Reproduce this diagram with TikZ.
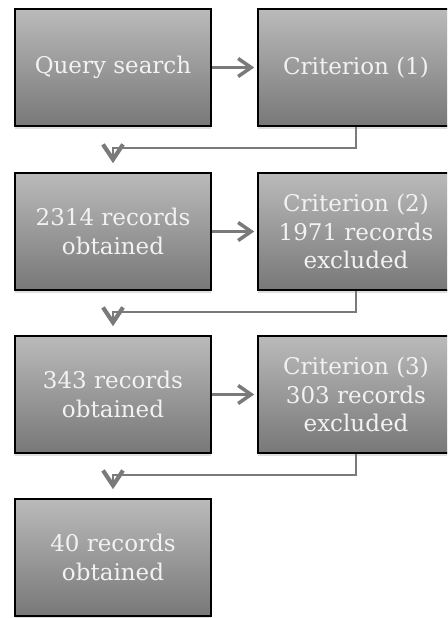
\documentclass[tikz,border=0pt]{standalone}
\usepackage{fontspec}
\newfontfamily\boxfont{DejaVu Serif}
\usetikzlibrary{arrows.meta,shadows,calc}
\definecolor{conngray}{HTML}{7A7A7A}
\definecolor{txtwhite}{HTML}{F2F2F2}
\tikzset{
  stepbox/.style={draw=black, line width=1.6pt, top color=black!27, bottom color=black!53,
    minimum width=196pt, minimum height=117pt, inner sep=0pt, align=center,
    text=txtwhite, font=\boxfont\fontsize{23}{28.5}\selectfont,
    drop shadow={shadow xshift=0pt, shadow yshift=-2.5pt, opacity=0.25}},
  rarrow/.style={draw=conngray, line width=2.2pt, shorten >=3pt,
    -{Straight Barb[length=13pt,width=18pt,line width=3.5pt]}},
  darrow/.style={draw=conngray, line width=1.5pt, shorten >=9pt,
    -{Straight Barb[length=15pt,width=20pt,line width=4.2pt]}}
}
\begin{document}
\begin{tikzpicture}[x=1pt,y=1pt]
\useasboundingbox (0,0) rectangle (447,-618);
\clip (0,0) rectangle (447,-618);
\fill[white] (0,0) rectangle (447,-618);
\node[stepbox] (q)  at (113,-67.5) {Query search};
\node[stepbox] (c1) at (356,-67.5) {Criterion (1)};
\node[stepbox] (r2) at (113,-231.5) {2314 records\\obtained};
\node[stepbox] (c2) at (356,-231.5) {Criterion (2)\\1971 records\\excluded};
\node[stepbox] (r3) at (113,-394.5) {343 records\\obtained};
\node[stepbox] (c3) at (356,-394.5) {Criterion (3)\\303 records\\excluded};
\node[stepbox] (r4) at (113,-557.5) {40 records\\obtained};
\draw[rarrow] (q) -- (c1);
\draw[rarrow] (r2) -- (c2);
\draw[rarrow] (r3) -- (c3);
\draw[darrow] (c1.south) -- ++(0,-21) -| (r2.north);
\draw[darrow] (c2.south) -- ++(0,-21) -| (r3.north);
\draw[darrow] (c3.south) -- ++(0,-21) -| (r4.north);
\end{tikzpicture}
\end{document}
